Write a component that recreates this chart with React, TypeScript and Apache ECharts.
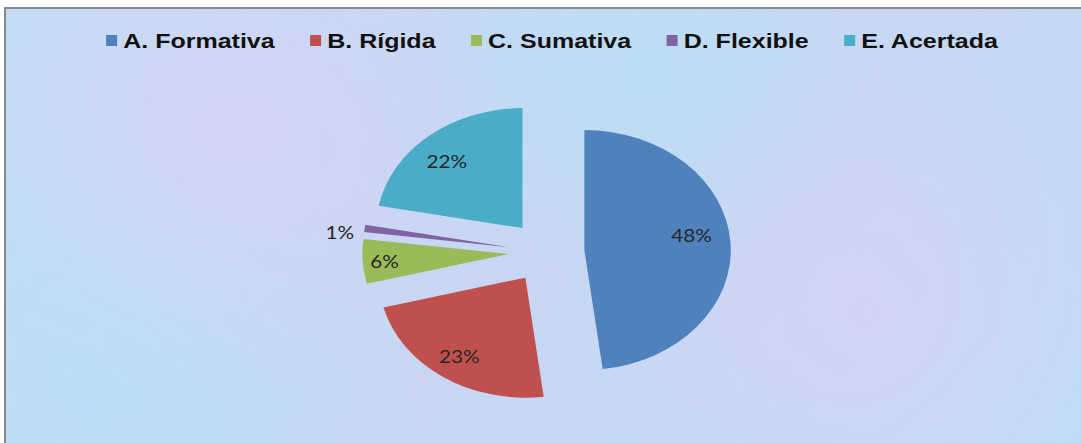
import React, { useEffect, useRef } from "react";
import * as echarts from "echarts";

// ---- data ----
const categories = ["A. Formativa", "B. Rígida", "C. Sumativa", "D. Flexible", "E. Acertada"];
const values = [48, 23, 6, 1, 22];
const colors = ["#4F81BD", "#C0504D", "#9BBB59", "#8064A2", "#4BACC6"];
// small label nudges (px, before horizontal stretch)
const labelNudge: [number, number][] = [[-3, -9], [-3, 3], [-11, 2], [-49, -1], [-4, 3]];

const PAGE_W = 1081;
const PAGE_H = 443;
const STRETCH = 1.22;
const CHART_W = Math.round(PAGE_W / STRETCH);

export default function App() {
  const ref = useRef<HTMLDivElement>(null);

  useEffect(() => {
    if (!ref.current) return;
    const chart = echarts.init(ref.current, null, { renderer: "svg" });
    const pieData = categories.map((name, i) => ({
      name,
      value: values[i],
      selected: true,
      itemStyle: { color: colors[i] },
    }));
    const labelData = categories.map((name, i) => ({
      name,
      value: values[i],
      selected: true,
      itemStyle: { color: "rgba(0,0,0,0)" },
    }));
    const common = {
      type: "pie",
      center: [448, 252],
      startAngle: 90,
      clockwise: true,
      selectedMode: "multiple",
      selectedOffset: 31,
      silent: true,
      avoidLabelOverlap: false,
      legendHoverLink: false,
      emphasis: { disabled: true },
      select: { itemStyle: { borderWidth: 0 } },
    };
    chart.setOption({
      animation: false,
      backgroundColor: "transparent",
      legend: {
        data: categories.map((n, i) => ({ name: n, itemStyle: { color: colors[i] } })),
        left: 82,
        top: 25,
        icon: "rect",
        itemWidth: 9,
        itemHeight: 11,
        itemGap: 29,
        selectedMode: false,
        textStyle: {
          fontFamily: "Liberation Sans",
          fontWeight: "bold",
          fontSize: 20.5,
          color: "#111",
        },
      },
      series: [
        {
          ...common,
          name: "main",
          radius: 120,
          label: { show: false },
          labelLine: { show: false },
          data: pieData,
        },
        {
          ...common,
          name: "labels",
          radius: [56, 120],
          label: {
            show: true,
            position: "inside",
            formatter: "{c}%",
            fontFamily: "Lato",
            fontSize: 17,
            color: "#262626",
          },
          labelLine: { show: false },
          labelLayout: (p: any) => ({
            dx: labelNudge[p.dataIndex][0],
            dy: labelNudge[p.dataIndex][1],
          }),
          data: labelData,
        },
      ],
    });
    return () => chart.dispose();
  }, []);

  return (
    <div
      style={{
        position: "fixed",
        left: 0,
        top: 0,
        width: PAGE_W,
        height: PAGE_H,
        background: "#ffffff",
        overflow: "hidden",
      }}
    >
      <div
        style={{
          position: "absolute",
          left: 4,
          top: 7,
          right: 0,
          bottom: 0,
          borderLeft: "2px solid #8a8a8a",
          borderTop: "2px solid #8a8a8a",
          background:
            "radial-gradient(circle at 20% 30%, rgba(232,205,242,0.4), rgba(232,205,242,0) 30%)," +
            "radial-gradient(circle at 80% 70%, rgba(228,205,242,0.4), rgba(228,205,242,0) 30%)," +
            "radial-gradient(circle at 60% 15%, rgba(175,228,250,0.55), rgba(175,228,250,0) 30%)," +
            "radial-gradient(circle at 10% 85%, rgba(175,228,250,0.5), rgba(175,228,250,0) 30%)," +
            "linear-gradient(135deg, #c1dcf6 0%, #c9d6f3 50%, #c0dcf6 100%)",
        }}
      />
      <div
        ref={ref}
        style={{
          position: "absolute",
          left: 0,
          top: 0,
          width: CHART_W,
          height: PAGE_H,
          transform: `scaleX(${PAGE_W / CHART_W})`,
          transformOrigin: "0 0",
        }}
      />
    </div>
  );
}
